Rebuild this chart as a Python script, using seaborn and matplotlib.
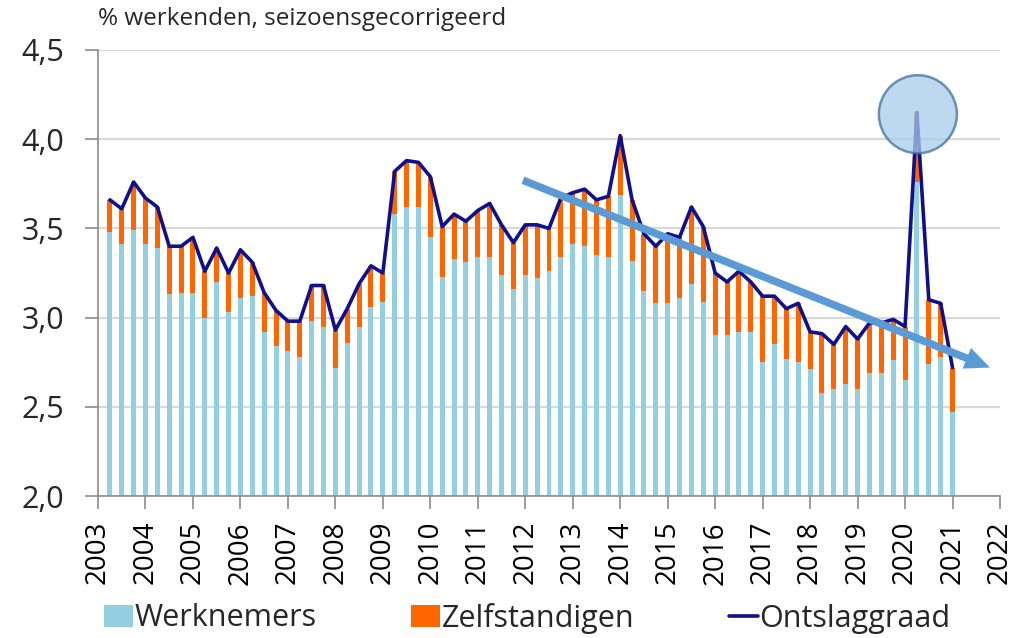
import matplotlib
matplotlib.use('Agg')
from matplotlib import pyplot as plt
from matplotlib.patches import Patch, Ellipse, FancyArrowPatch
from matplotlib.lines import Line2D
from matplotlib.ticker import FuncFormatter
import pandas as pd
import seaborn as sns

#quarters shown: 2003Q2 .. 2021Q1
quarters = pd.period_range('2003Q2', '2021Q1', freq='Q')

#total dismissal rate (line, top of the stacked bars)
ontslaggraad = [3.66, 3.61, 3.76, 3.67, 3.62, 3.40, 3.40, 3.45, 3.26, 3.39, 3.25, 3.38,
                3.31, 3.14, 3.04, 2.98, 2.98, 3.18, 3.18, 2.93, 3.05, 3.19, 3.29, 3.25,
                3.82, 3.88, 3.87, 3.79, 3.51, 3.58, 3.54, 3.60, 3.64, 3.52, 3.42, 3.52,
                3.52, 3.50, 3.67, 3.70, 3.72, 3.66, 3.68, 4.02, 3.66, 3.47, 3.40, 3.47,
                3.45, 3.62, 3.51, 3.25, 3.20, 3.26, 3.20, 3.12, 3.12, 3.05, 3.08, 2.92,
                2.91, 2.85, 2.95, 2.88, 2.97, 2.97, 2.99, 2.95, 4.15, 3.10, 3.08, 2.72]

#employees part (light blue)
werknemers = [3.48, 3.41, 3.49, 3.41, 3.39, 3.13, 3.14, 3.14, 3.00, 3.20, 3.03, 3.11,
              3.12, 2.92, 2.84, 2.81, 2.78, 2.98, 2.95, 2.72, 2.86, 2.95, 3.06, 3.09,
              3.58, 3.62, 3.62, 3.45, 3.23, 3.33, 3.31, 3.34, 3.34, 3.24, 3.16, 3.24,
              3.22, 3.26, 3.34, 3.41, 3.40, 3.35, 3.34, 3.69, 3.32, 3.15, 3.08, 3.08,
              3.11, 3.19, 3.09, 2.90, 2.90, 2.92, 2.92, 2.75, 2.85, 2.77, 2.75, 2.71,
              2.58, 2.60, 2.63, 2.60, 2.69, 2.69, 2.76, 2.65, 3.76, 2.74, 2.78, 2.47]

years = list(range(2003, 2023))
labels = ['Werknemers', 'Zelfstandigen', 'Ontslaggraad']
title = '% werkenden, seizoensgecorrigeerd'

#annotation: trend arrow and circle round the 2020 spike (data coords)
arrow_start = (2011.95, 3.77)
arrow_end = (2021.79, 2.72)
circle_center = (2020.27, 4.14)

c_blue = '#93CFE1'
c_orange = '#FF6600'
c_line = '#10108C'
c_arrow = '#5B9BD5'

df = pd.DataFrame({'pos': quarters.year + (quarters.quarter - 1) / 4,
                   'Ontslaggraad': ontslaggraad,
                   'Werknemers': werknemers})

sns.set_theme(style='white')
plt.rcParams['font.family'] = ['Open Sans', 'DejaVu Sans']

fig = plt.figure(figsize=(10.14, 6.38), dpi=100)
ax = fig.add_axes([98/1014, 1 - 496/638, 902/1014, 446/638])

#stacked bars: orange up to the total, blue employees on top of it
sns.barplot(data=df, x='pos', y='Ontslaggraad', native_scale=True, width=0.42,
            color=c_orange, saturation=1, errorbar=None, linewidth=0, ax=ax)
sns.barplot(data=df, x='pos', y='Werknemers', native_scale=True, width=0.42,
            color=c_blue, saturation=1, errorbar=None, linewidth=0, ax=ax)
sns.lineplot(data=df, x='pos', y='Ontslaggraad', color=c_line, lw=2.6, ax=ax, zorder=5)

ax.set_xlim(2003, 2022)
ax.set_ylim(2.0, 4.5)
ax.set_yticks([2.0, 2.5, 3.0, 3.5, 4.0, 4.5])
ax.yaxis.set_major_formatter(FuncFormatter(lambda v, p: f'{v:.1f}'.replace('.', ',')))
ax.set_xticks(years)
ax.set_xticklabels([str(y) for y in years], rotation=90)
ax.set_xlabel('')
ax.set_ylabel('')
ax.grid(axis='y', color='#D9D9D9', lw=1.6)
ax.set_axisbelow(True)
for s in ['top', 'right']:
    ax.spines[s].set_visible(False)
for s in ['left', 'bottom']:
    ax.spines[s].set_color('#8C8C8C')
    ax.spines[s].set_linewidth(1.2)
ax.tick_params(axis='y', length=9.5, width=1.2, color='#8C8C8C', pad=15,
               labelsize=22, labelcolor='#262626', left=True)
ax.tick_params(axis='x', length=9, width=1.2, color='#8C8C8C', pad=9,
               labelsize=20, labelcolor='#000000', bottom=True)

#trend arrow
arr = FancyArrowPatch(arrow_start, arrow_end,
                      arrowstyle='simple,head_length=1.8,head_width=1.6,tail_width=0.55',
                      mutation_scale=10, color=c_arrow, lw=0, zorder=6, shrinkA=0, shrinkB=0)
ax.add_patch(arr)

#circle round the peak
ell = Ellipse(circle_center, width=78/47.47, height=78/178.4,
              facecolor='#A9CBEA', alpha=0.75, edgecolor='#41719C', lw=1.8, zorder=7)
ax.add_patch(ell)

fig.text(98/1014, 1 - 19/638, title, fontsize=17.5, color='#262626', ha='left', va='center')

handles = [Patch(facecolor=c_blue, edgecolor='none'),
           Patch(facecolor=c_orange, edgecolor='none'),
           Line2D([0], [0], color=c_line, lw=2.6)]
fig.legend(handles, labels, loc='center', bbox_to_anchor=(527/1014, 1 - 618/638),
           ncol=3, frameon=False, fontsize=22, handlelength=0.95, handleheight=0.75,
           handletextpad=0.05, columnspacing=3.1, borderpad=0,
           labelcolor='#262626')

fig.savefig('out.png', dpi=100)
